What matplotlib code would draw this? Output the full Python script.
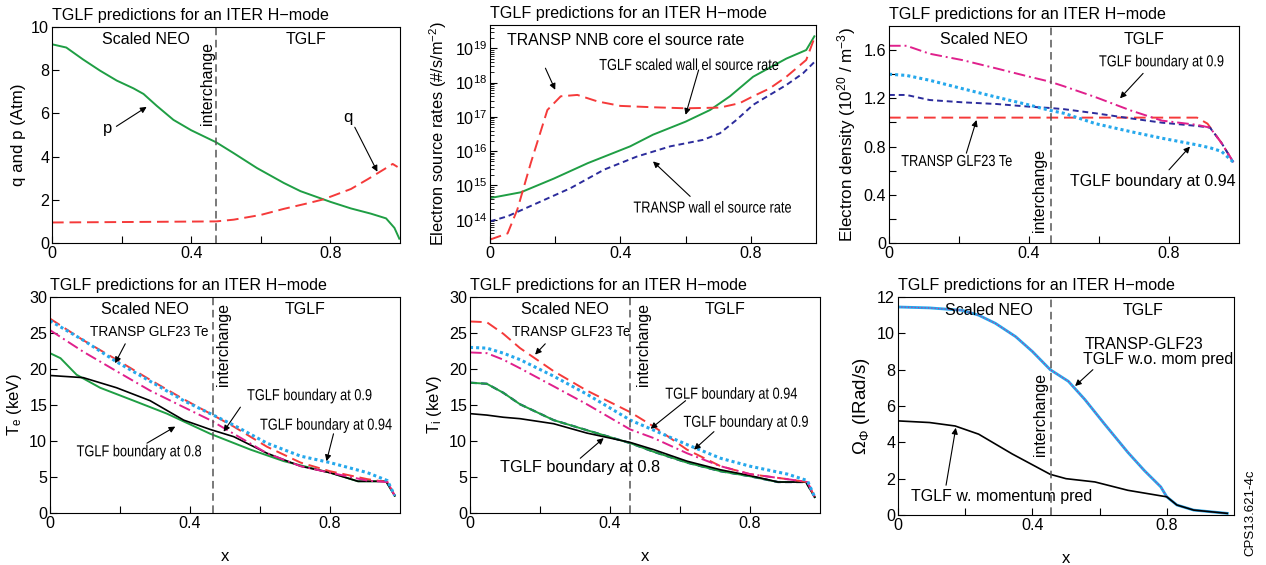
import numpy as np
import matplotlib
matplotlib.use("Agg")
import matplotlib.pyplot as plt
from matplotlib.patheffects import AbstractPathEffect
from matplotlib.transforms import Affine2D, Bbox

# ---- data ----
# panel 1: q and p
x_p = [0, 0.041, 0.089, 0.138, 0.186, 0.234, 0.263, 0.301, 0.349, 0.40, 0.472, 0.522, 0.589, 0.666,
       0.714, 0.801, 0.859, 0.916, 0.96, 0.984, 0.998]
p_val = [9.2, 9.05, 8.5, 7.98, 7.52, 7.16, 6.9, 6.35, 5.7, 5.22, 4.66, 4.16, 3.47, 2.78, 2.4, 1.9,
         1.6, 1.36, 1.14, 0.7, 0.2]
x_q = [0, 0.2, 0.472, 0.522, 0.60, 0.666, 0.73, 0.78, 0.859, 0.907, 0.955, 0.979, 0.993]
q_val = [0.95, 0.97, 1.0, 1.08, 1.3, 1.58, 1.82, 2.02, 2.5, 2.95, 3.42, 3.66, 3.52]

# panel 2: electron source rates (log10 of #/s/m^2)
x_sw = [0, 0.095, 0.196, 0.30, 0.43, 0.50, 0.60, 0.675, 0.736, 0.807, 0.909, 0.97, 0.995]
tglf_wall = [14.63, 14.8, 15.2, 15.65, 16.14, 16.48, 16.86, 17.2, 17.6, 18.17, 18.7, 18.95, 19.35]
x_nnb = [0, 0.054, 0.084, 0.125, 0.176, 0.217, 0.268, 0.33, 0.40, 0.50, 0.60, 0.705, 0.766, 0.807,
         0.858, 0.909, 0.97, 0.995]
nnb_core = [13.42, 13.6, 14.3, 15.65, 17.2, 17.6, 17.64, 17.45, 17.32, 17.28, 17.25, 17.27, 17.4,
            17.6, 17.83, 18.17, 18.66, 19.3]
x_tw = [0, 0.054, 0.146, 0.247, 0.35, 0.45, 0.553, 0.654, 0.705, 0.756, 0.807, 0.909, 0.96, 0.995]
transp_wall = [13.95, 14.1, 14.49, 14.92, 15.46, 15.84, 16.14, 16.33, 16.52, 16.91, 17.35, 17.93,
               18.27, 18.6]

# panel 3: electron density
x_ne = [0, 0.05, 0.116, 0.21, 0.307, 0.40, 0.46, 0.50, 0.59, 0.69, 0.78, 0.88, 0.917, 0.95, 0.984]
ne_b09 = [1.636, 1.636, 1.57, 1.517, 1.448, 1.38, 1.338, 1.30, 1.21, 1.10, 1.015, 0.98, 0.957, 0.83, 0.67]
ne_b094 = [1.40, 1.39, 1.35, 1.28, 1.21, 1.145, 1.10, 1.076, 0.99, 0.924, 0.869, 0.814, 0.79, 0.76, 0.67]
ne_tglf = [1.228, 1.228, 1.186, 1.167, 1.153, 1.131, 1.12, 1.11, 1.076, 1.034, 0.998, 0.971, 0.957,
           0.83, 0.67]
x_ne_tr = [0, 0.88, 0.91, 0.95, 0.984]
ne_transp = [1.04, 1.04, 0.99, 0.83, 0.67]

# panel 4: Te
x_te = [0, 0.095, 0.19, 0.286, 0.382, 0.458, 0.525, 0.62, 0.716, 0.80, 0.907, 0.964, 0.985]
te_transp = [27.0, 24.0, 21.3, 18.5, 15.8, 13.8, 12.0, 9.2, 7.0, 5.8, 4.7, 4.3, 2.4]
te_b094 = [26.7, 24.0, 21.0, 18.3, 15.6, 13.8, 12.2, 9.7, 7.9, 7.0, 5.6, 4.5, 2.4]
te_b09 = [25.4, 22.4, 19.7, 17.0, 14.7, 12.9, 11.0, 8.3, 6.5, 5.6, 4.5, 4.3, 2.4]
x_te_k = [0, 0.095, 0.19, 0.286, 0.382, 0.458, 0.525, 0.62, 0.716, 0.80, 0.88, 0.96, 0.985]
te_ref = [19.1, 18.8, 17.4, 15.6, 12.9, 11.6, 10.6, 8.3, 6.5, 5.6, 4.4, 4.4, 2.4]
x_te_g = [0, 0.03, 0.076, 0.143, 0.239, 0.334, 0.458, 0.573, 0.668, 0.80, 0.88, 0.96, 0.985]
te_b08 = [22.2, 21.5, 19.2, 17.4, 15.6, 13.8, 11.0, 8.8, 7.2, 5.6, 4.4, 4.4, 2.4]

# panel 5: Ti
x_ti = [0, 0.048, 0.095, 0.143, 0.239, 0.334, 0.458, 0.525, 0.62, 0.716, 0.80, 0.907, 0.964, 0.985]
ti_transp = [26.6, 26.5, 24.9, 22.9, 19.7, 17.0, 14.0, 12.0, 8.8, 6.5, 5.4, 4.7, 4.3, 2.2]
ti_b094 = [23.0, 22.9, 22.2, 21.3, 19.0, 16.5, 12.9, 11.5, 9.5, 7.6, 6.5, 5.4, 4.5, 2.2]
ti_b09 = [22.3, 22.2, 21.3, 20.1, 17.6, 15.1, 11.6, 10.4, 8.3, 6.5, 5.4, 4.7, 4.3, 2.2]
x_ti_g = [0, 0.048, 0.095, 0.143, 0.239, 0.334, 0.458, 0.525, 0.62, 0.716, 0.80, 0.88, 0.96, 0.985]
ti_b08 = [18.1, 17.95, 16.7, 15.1, 12.9, 11.5, 9.7, 8.5, 7.0, 5.8, 5.1, 4.3, 4.3, 2.2]
ti_ref = [13.8, 13.6, 13.3, 13.1, 12.4, 11.1, 9.8, 8.8, 7.2, 6.0, 5.2, 4.3, 4.3, 2.2]

# panel 6: toroidal rotation
x_om = [0, 0.094, 0.19, 0.24, 0.29, 0.35, 0.40, 0.453, 0.507, 0.556, 0.615, 0.684, 0.733, 0.782,
        0.80, 0.83, 0.88, 0.93, 0.98]
om_transp = [11.45, 11.4, 11.27, 11.0, 10.55, 9.82, 9.0, 8.0, 7.36, 6.36, 5.0, 3.45, 2.45, 1.55,
             1.0, 0.55, 0.27, 0.18, 0.09]
x_om_k = [0, 0.094, 0.17, 0.24, 0.34, 0.453, 0.50, 0.586, 0.684, 0.80, 0.83, 0.88, 0.98]
om_mom = [5.18, 5.09, 4.9, 4.45, 3.36, 2.24, 2.0, 1.82, 1.36, 1.0, 0.55, 0.27, 0.09]

SQ = 0.8  # horizontal squeeze for the condensed labels


# condensed look for some labels (squeeze the glyph path sideways from its left edge)
class Squeeze(AbstractPathEffect):
    def __init__(self, sx=SQ):
        super().__init__()
        self.sx = sx

    def draw_path(self, renderer, gc, tpath, affine, rgbFace=None):
        x0, y0 = affine.transform((0, 0))
        sq = Affine2D().translate(-x0, -y0).scale(self.sx, 1).translate(x0, y0)
        renderer.draw_path(gc, tpath, affine + sq, rgbFace)


plt.rcParams['font.family'] = ['Liberation Sans', 'DejaVu Sans']
plt.rcParams['mathtext.default'] = 'regular'
plt.rcParams['font.size'] = 11

GREEN = '#1f9e44'
RED = '#f53a3a'
NAVY = '#2c2c9c'
MAG = '#e0208c'
CYAN = '#25a8ec'
TITLE = 'TGLF predictions for an ITER H\u2212mode'
ARW = dict(arrowstyle='-|>', color='black', lw=0.8, mutation_scale=9, shrinkA=0, shrinkB=0)

W, H = 1266, 565
fig = plt.figure(figsize=(W / 100, H / 100), dpi=100)


def make_ax(l, r, t, b):
    return fig.add_axes([l / W, 1 - b / H, (r - l) / W, (b - t) / H])


def decorate(ax, ylim, yticks, ylabels, xch, ylab, ich_x, ich_y, ich_va='top', xlabel=False, ylsize=12.2):
    ax.set_xlim(0, 1)
    ax.set_ylim(*ylim)
    ax.set_xticks([0, 0.2, 0.4, 0.6, 0.8])
    ax.set_xticklabels(['0', '', '0.4', '', '0.8'])
    if yticks is not None:
        ax.set_yticks(yticks)
        ax.set_yticklabels(ylabels)
    ax.tick_params(direction='in', length=5, width=0.8, labelsize=11.6, pad=2)
    ax.tick_params(which='minor', direction='in', length=3)
    for s in ax.spines.values():
        s.set_linewidth(0.8)
    ax.set_title(TITLE, loc='left', fontsize=11.6, pad=5)
    ax.set_ylabel(ylab, fontsize=ylsize, labelpad=4)
    if xlabel:
        ax.set_xlabel('x', fontsize=12, labelpad=13)
    if xch is not None:
        ax.axvline(xch, color='#555555', lw=1.1, ls=(0, (5, 3)))
        ax.text(ich_x, ich_y, 'interchange', rotation=90, ha='center', va=ich_va,
                fontsize=11.4, transform=ax.get_xaxis_transform())
        ax.text(0.27, 0.94, 'Scaled NEO', ha='center', va='center', fontsize=11.5,
                transform=ax.transAxes)
        ax.text(0.73, 0.94, 'TGLF', ha='center', va='center', fontsize=11.5,
                transform=ax.transAxes)


def label(ax, x, y, s, size=11.5, narrow=True):
    t = ax.text(x, y, s, ha='left', va='center', fontsize=size)
    if narrow:
        t.set_path_effects([Squeeze(SQ)])
        full = t.get_window_extent

        # report the squeezed extent, so the box matches what is drawn
        def squeezed(renderer=None, dpi=None, _full=full):
            bb = _full(renderer, dpi)
            return Bbox.from_extents(bb.x0, bb.y0, bb.x0 + SQ * bb.width, bb.y1)
        t.get_window_extent = squeezed
    return t


def arrow(ax, head, tail):
    ax.annotate('', xy=head, xytext=tail, arrowprops=ARW)


# ---- panel 1 ----
ax1 = make_ax(52, 400, 27, 243)
ax1.plot(x_p, p_val, color=GREEN, lw=1.4)
ax1.plot(x_q, q_val, color=RED, lw=1.4, ls=(0, (6, 3)))
decorate(ax1, (0, 10), [0, 2, 4, 6, 8, 10], ['0', '2', '4', '6', '8', '10'],
         0.472, 'q and p (Atm)', 0.447, 0.93)
arrow(ax1, (0.272, 6.3), (0.185, 5.4))
ax1.text(0.16, 5.3, 'p', ha='center', va='center', fontsize=12)
arrow(ax1, (0.935, 3.3), (0.87, 5.36))
ax1.text(0.85, 5.8, 'q', ha='center', va='center', fontsize=12)

# ---- panel 2 ----
ax2 = make_ax(490, 816, 25, 243)
ax2.plot(x_sw, 10 ** np.array(tglf_wall), color=GREEN, lw=1.4)
ax2.plot(x_nnb, 10 ** np.array(nnb_core), color=RED, lw=1.4, ls=(0, (6, 3)))
ax2.plot(x_tw, 10 ** np.array(transp_wall), color=NAVY, lw=1.4, ls=(0, (3, 2)))
ax2.set_yscale('log')
decorate(ax2, (10 ** 13.32, 10 ** 19.68), [1e14, 1e15, 1e16, 1e17, 1e18, 1e19],
         ['$10^{14}$', '$10^{15}$', '$10^{16}$', '$10^{17}$', '$10^{18}$', '$10^{19}$'],
         None, 'Electron source rates (#/s/m$^{-2}$)', 0, 0, ylsize=11.8)
label(ax2, 0.052, 10 ** 19.24, 'TRANSP NNB core el source rate', size=11.4, narrow=False)
arrow(ax2, (0.2, 10 ** 17.79), (0.17, 10 ** 18.42))
label(ax2, 0.335, 10 ** 18.5, 'TGLF scaled wall el source rate')
arrow(ax2, (0.6, 10 ** 17.06), (0.64, 10 ** 18.37))
label(ax2, 0.44, 10 ** 14.34, 'TRANSP wall el source rate')
arrow(ax2, (0.5, 10 ** 15.7), (0.614, 10 ** 14.68))

# ---- panel 3 ----
ax3 = make_ax(889, 1239, 26, 243)
ax3.plot(x_ne_tr, ne_transp, color=RED, lw=1.4, ls=(0, (6, 3)))
ax3.plot(x_ne, ne_tglf, color=NAVY, lw=1.4, ls=(0, (3, 2)))
ax3.plot(x_ne, ne_b09, color=MAG, lw=1.4, ls=(0, (6, 2, 1, 2)))
ax3.plot(x_ne, ne_b094, color=CYAN, lw=2.2, ls=(0, (1, 1)))
decorate(ax3, (0, 1.8), [0, 0.2, 0.4, 0.6, 0.8, 1.0, 1.2, 1.4, 1.6],
         ['0', '', '0.4', '', '0.8', '', '1.2', '', '1.6'],
         0.463, 'Electron density (10$^{20}$ / m$^{-3}$)', 0.43, 0.05, ich_va='bottom', ylsize=12.3)
label(ax3, 0.6, 1.503, 'TGLF boundary at 0.9')
arrow(ax3, (0.66, 1.2), (0.726, 1.407))
label(ax3, 0.035, 0.676, 'TRANSP GLF23 Te')
arrow(ax3, (0.25, 1.02), (0.221, 0.745))
label(ax3, 0.517, 0.51, 'TGLF boundary at 0.94', size=11.5, narrow=False)
arrow(ax3, (0.86, 0.8), (0.8, 0.607))

# ---- panel 4 ----
ax4 = make_ax(50, 400, 297, 513)
ax4.plot(x_te_g, te_b08, color=GREEN, lw=1.4)
ax4.plot(x_te_k, te_ref, color='black', lw=1.2)
ax4.plot(x_te, te_transp, color=RED, lw=1.4, ls=(0, (6, 3)))
ax4.plot(x_te, te_b09, color=MAG, lw=1.4, ls=(0, (6, 2, 1, 2)))
ax4.plot(x_te, te_b094, color=CYAN, lw=2.2, ls=(0, (1, 1)))
decorate(ax4, (0, 30), [0, 5, 10, 15, 20, 25, 30], ['0', '5', '10', '15', '20', '25', '30'],
         0.465, 'T$_e$ (keV)', 0.495, 0.97, xlabel=True, ylsize=12)
label(ax4, 0.115, 25.1, 'TRANSP GLF23 Te', size=9.8, narrow=False)
arrow(ax4, (0.186, 20.8), (0.215, 23.5))
label(ax4, 0.563, 16.3, 'TGLF boundary at 0.9')
arrow(ax4, (0.496, 11.3), (0.544, 14.7))
label(ax4, 0.6, 12.2, 'TGLF boundary at 0.94')
arrow(ax4, (0.79, 7.2), (0.81, 11.0))
label(ax4, 0.076, 8.5, 'TGLF boundary at 0.8')
arrow(ax4, (0.358, 12.0), (0.277, 9.7))

# ---- panel 5 ----
ax5 = make_ax(470, 820, 297, 513)
ax5.plot(x_ti_g, ti_b08, color=NAVY, lw=1.6, ls=(0, (3, 2)))
ax5.plot(x_ti_g, ti_b08, color=GREEN, lw=1.4)
ax5.plot(x_ti_g, ti_ref, color='black', lw=1.2)
ax5.plot(x_ti, ti_transp, color=RED, lw=1.4, ls=(0, (6, 3)))
ax5.plot(x_ti, ti_b09, color=MAG, lw=1.4, ls=(0, (6, 2, 1, 2)))
ax5.plot(x_ti, ti_b094, color=CYAN, lw=2.2, ls=(0, (1, 1)))
decorate(ax5, (0, 30), [0, 5, 10, 15, 20, 25, 30], ['0', '5', '10', '15', '20', '25', '30'],
         0.456, 'T$_i$ (keV)', 0.495, 0.97, xlabel=True, ylsize=12)
label(ax5, 0.12, 25.1, 'TRANSP GLF23 Te', size=9.8, narrow=False)
arrow(ax5, (0.186, 22.0), (0.215, 23.5))
label(ax5, 0.558, 16.5, 'TGLF boundary at 0.94')
arrow(ax5, (0.516, 11.7), (0.616, 15.6))
label(ax5, 0.61, 12.6, 'TGLF boundary at 0.9')
arrow(ax5, (0.64, 8.8), (0.697, 11.3))
label(ax5, 0.086, 6.3, 'TGLF boundary at 0.8', size=11.8, narrow=False)
arrow(ax5, (0.382, 10.4), (0.315, 7.6))

# ---- panel 6 ----
ax6 = make_ax(898, 1234, 297, 515)
ax6.plot(x_om, om_transp, color=CYAN, lw=2.0)
ax6.plot(x_om, om_transp, color=MAG, lw=0.8, ls=(0, (1, 2)))
ax6.plot(x_om_k, om_mom, color='black', lw=1.2)
decorate(ax6, (0, 12), [0, 2, 4, 6, 8, 10, 12], ['0', '2', '4', '6', '8', '10', '12'],
         0.454, '$\\Omega_\\Phi$ (IRad/s)', 0.423, 0.27, ich_va='bottom', xlabel=True, ylsize=13.5)
label(ax6, 0.556, 9.36, 'TRANSP-GLF23', size=11.5, narrow=False)
label(ax6, 0.55, 8.55, 'TGLF w.o. mom pred', size=11.5, narrow=False)
arrow(ax6, (0.527, 7.1), (0.58, 8.0))
label(ax6, 0.04, 1.0, 'TGLF w. momentum pred', size=11.5, narrow=False)
arrow(ax6, (0.172, 4.8), (0.143, 1.64))
fig.text(1250 / W, 1 - 513 / H, 'CPS13.621-4c', rotation=90, ha='center', va='center', fontsize=9.5)

fig.savefig('out.png', dpi=100)
